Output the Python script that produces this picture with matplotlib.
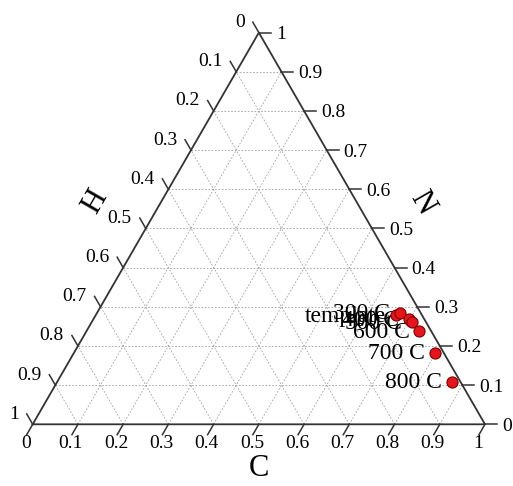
import numpy as np
import matplotlib
matplotlib.use("Agg")
import matplotlib.pyplot as plt

# ternary data (C, N, H fractions)
labels = ["template", "300 C", "400 C", "500 C", "600 C", "700 C", "800 C"]
c_frac = [0.664, 0.670, 0.699, 0.708, 0.736, 0.798, 0.872]
n_frac = [0.279, 0.285, 0.268, 0.261, 0.238, 0.183, 0.109]
h_frac = [0.057, 0.045, 0.033, 0.031, 0.026, 0.019, 0.019]

ticks = [0, 0.1, 0.2, 0.3, 0.4, 0.5, 0.6, 0.7, 0.8, 0.9, 1]
tick_text = ["0", "0.1", "0.2", "0.3", "0.4", "0.5", "0.6", "0.7", "0.8", "0.9", "1"]

plt.rcParams['font.family'] = ['Liberation Serif', 'DejaVu Serif']

S3 = np.sqrt(3) / 2
PX = 1 / 452.3  # one pixel in triangle units


def to_xy(c, n):
    c = np.asarray(c, dtype=float)
    n = np.asarray(n, dtype=float)
    return c + n / 2, n * S3


fig = plt.figure(figsize=(5.13, 4.86), dpi=100)
ax = fig.add_axes([0, 0, 1, 1])
ax.set_xlim(-32.7 * PX, (513 - 32.7) * PX)
ax.set_ylim(-61.7 * PX, (486 - 61.7) * PX)
ax.axis("off")

# grid lines
gkw = dict(color="#a0a0a0", lw=0.6, ls=(0, (2, 2)), zorder=1)
for t in ticks[1:-1]:
    # constant N (horizontal)
    x, y = to_xy([0, 1 - t], [t, t])
    ax.plot(x, y, **gkw)
    # constant C (parallel to left edge)
    x, y = to_xy([t, t], [0, 1 - t])
    ax.plot(x, y, **gkw)
    # constant H (parallel to right edge)
    x, y = to_xy([1 - t, 0], [0, 1 - t])
    ax.plot(x, y, **gkw)

# triangle edges
x, y = to_xy([0, 1, 0, 0], [0, 0, 1, 0])
ax.plot(x, y, color="#333333", lw=1.3, zorder=2)

tl = 12 * PX
fs_tick = 14
for t, s in zip(ticks, tick_text):
    # bottom axis: C
    bx, by = to_xy(t, 0)
    ax.plot([bx, bx - 0.5 * tl], [by, by - S3 * tl], color="#333333", lw=1.1)
    ax.text(bx - 7 * PX, by - 19 * PX, s, ha="center", va="center", fontsize=fs_tick)
    # right axis: N
    rx, ry = to_xy(1 - t, t)
    ax.plot([rx, rx + tl], [ry, ry], color="#333333", lw=1.1)
    ax.text(rx + 17 * PX, ry - 2 * PX, s, ha="left", va="center", fontsize=fs_tick)
    # left axis: H
    lx, ly = to_xy(0, 1 - t)
    ax.plot([lx, lx - 0.5 * tl], [ly, ly + S3 * tl], color="#333333", lw=1.1)
    ax.text(lx - 14 * PX, ly + 10 * PX, s, ha="right", va="center", fontsize=fs_tick)

# axis titles
ax.text(226 * PX, -44 * PX, "C", ha="center", va="center", fontsize=22)
ax.text(62 * PX, (424.3 - 202) * PX, "H", ha="center", va="center", fontsize=22, rotation=60)
ax.text((422 - 32.7) * PX, (424.3 - 203) * PX, "N", ha="center", va="center", fontsize=22, rotation=-60)

# data points
px, py = to_xy(c_frac, n_frac)
ax.plot(px, py, "o", color="#e8141b", mec="#7a0000", mew=0.8, ms=8, ls="none", zorder=4)
for lab, x0, y0 in zip(labels, px, py):
    ax.text(x0 - 10 * PX, y0 - 1 * PX, lab, ha="right", va="center", fontsize=17, zorder=3)

fig.savefig("out.png", dpi=100)
